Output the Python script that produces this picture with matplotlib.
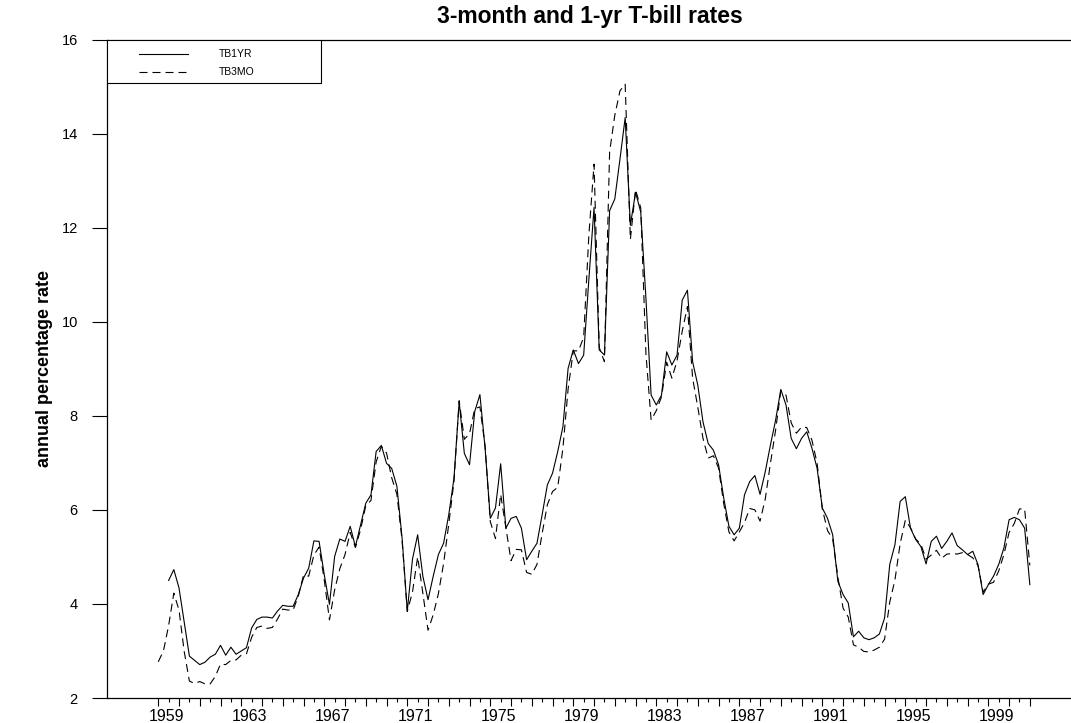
import numpy as np
import matplotlib.pyplot as plt
from matplotlib.patches import Rectangle
from matplotlib.transforms import blended_transform_factory

plt.rcParams['font.family'] = ['Liberation Sans', 'DejaVu Sans']

# quarterly averages, 1959Q1 .. 2001Q1
start_year = 1959
tb3mo = [
    2.77, 3.00, 3.54, 4.23,  3.87, 2.99, 2.36, 2.31,  2.35, 2.30, 2.30, 2.46,
    2.72, 2.71, 2.80, 2.81,  2.91, 2.94, 3.29, 3.50,  3.53, 3.48, 3.50, 3.68,
    3.89, 3.87, 3.87, 4.17,  4.61, 4.59, 5.04, 5.21,  4.51, 3.66, 4.30, 4.75,
    5.05, 5.52, 5.20, 5.58,  6.09, 6.20, 7.02, 7.35,  7.21, 6.68, 6.33, 5.35,
    3.84, 4.25, 5.00, 4.23,  3.44, 3.77, 4.22, 4.86,  5.70, 6.60, 8.32, 7.50,
    7.62, 8.15, 8.19, 7.36,  5.75, 5.39, 6.33, 5.63,  4.92, 5.16, 5.15, 4.67,
    4.63, 4.84, 5.50, 6.11,  6.39, 6.48, 7.31, 8.57,  9.38, 9.38, 9.67, 11.84,
    13.35, 9.45, 9.15, 13.61,  14.39, 14.91, 15.05, 11.75,  12.81, 12.42, 9.32, 7.91,
    8.11, 8.40, 9.14, 8.80,  9.17, 9.80, 10.32, 8.80,  8.18, 7.52, 7.10, 7.15,
    6.89, 6.13, 5.53, 5.34,  5.53, 5.73, 6.03, 6.00,  5.76, 6.23, 6.99, 7.70,
    8.53, 8.44, 7.85, 7.63,  7.76, 7.75, 7.48, 6.99,  6.02, 5.56, 5.38, 4.57,
    3.91, 3.72, 3.13, 3.08,  2.99, 2.98, 3.02, 3.08,  3.25, 4.04, 4.51, 5.28,
    5.78, 5.62, 5.38, 5.27,  4.95, 5.04, 5.14, 4.97,  5.06, 5.07, 5.06, 5.09,
    5.05, 4.98, 4.82, 4.25,  4.42, 4.46, 4.70, 5.05,  5.52, 5.71, 6.02, 6.02,
    4.82,
]

# 1-yr series starts two quarters later (1959Q3)
tb1yr_offset = 2
tb1yr = [
                4.50, 4.73,  4.34, 3.62, 2.89, 2.80,  2.71, 2.76, 2.87, 2.93,
    3.12, 2.91, 3.08, 2.93,  3.00, 3.07, 3.49, 3.67,  3.72, 3.72, 3.70, 3.85,
    3.97, 3.95, 3.95, 4.20,  4.55, 4.76, 5.34, 5.33,  4.62, 3.99, 5.01, 5.38,
    5.33, 5.65, 5.22, 5.68,  6.14, 6.32, 7.24, 7.37,  6.99, 6.88, 6.50, 5.40,
    3.85, 4.95, 5.47, 4.59,  4.09, 4.59, 5.05, 5.29,  5.90, 6.67, 8.30, 7.20,
    6.96, 8.09, 8.45, 7.31,  5.82, 6.04, 6.98, 5.61,  5.82, 5.86, 5.61, 4.94,
    5.12, 5.29, 5.90, 6.53,  6.78, 7.24, 7.77, 9.01,  9.40, 9.11, 9.29, 10.90,
    12.43, 9.40, 9.29, 12.36,  12.61, 13.46, 14.34, 12.05,  12.75, 12.33, 10.50, 8.44,
    8.23, 8.44, 9.36, 9.08,  9.29, 10.46, 10.67, 9.15,  8.65, 7.87, 7.41, 7.27,
    6.96, 6.25, 5.65, 5.47,  5.61, 6.32, 6.60, 6.73,  6.33, 6.81, 7.38, 7.91,
    8.56, 8.23, 7.52, 7.30,  7.52, 7.66, 7.31, 6.88,  6.04, 5.82, 5.47, 4.48,
    4.20, 4.02, 3.30, 3.42,  3.28, 3.24, 3.28, 3.36,  3.70, 4.84, 5.26, 6.18,
    6.28, 5.61, 5.37, 5.22,  4.85, 5.33, 5.44, 5.18,  5.33, 5.51, 5.24, 5.15,
    5.05, 5.12, 4.84, 4.20,  4.41, 4.59, 4.84, 5.19,  5.79, 5.84, 5.79, 5.61,
    4.41,
]

label_years = list(range(1959, 2000, 4))
series_names = ['TB1YR', 'TB3MO']

t3 = start_year + np.arange(len(tb3mo)) / 4
t1 = start_year + (tb1yr_offset + np.arange(len(tb1yr))) / 4

fig = plt.figure(figsize=(10.71, 7.23), dpi=100)
ax = fig.add_axes([107 / 1071, 25 / 723, 966 / 1071, 658.5 / 723])

dash = (0, (7.2, 4.5))
ax.plot(t1, tb1yr, color='black', lw=0.8)
ax.plot(t3, tb3mo, color='black', lw=0.8, ls=dash)

ax.set_xlim(1956.53, 2003.08)
ax.set_ylim(2, 16)
ax.spines['right'].set_visible(False)
for s in ['left', 'top', 'bottom']:
    ax.spines[s].set_linewidth(0.9)

ax.set_yticks(range(2, 17, 2))
ax.tick_params(axis='y', direction='out', length=11, width=0.8,
               labelsize=10.5, pad=10)

# yearly ticks, half-year minor ticks, labels centred on each year's quarters
ax.set_xticks(range(1959, 2002), labels=[])
ax.set_xticks(np.arange(1959.5, 2001, 1), minor=True)
ax.tick_params(axis='x', which='major', direction='out', length=5.5, width=0.8)
ax.tick_params(axis='x', which='minor', direction='out', length=3, width=0.8)
trans = blended_transform_factory(ax.transData, ax.transAxes)
for yr in label_years:
    ax.text(yr + 0.375, -0.016, str(yr), transform=trans, ha='center',
            va='top', fontsize=11.5)

ax.set_ylabel('annual percentage rate', fontsize=13, fontweight='bold')
ax.yaxis.set_label_coords(-0.056, 0.5)
ax.set_title('3-month and 1-yr T-bill rates', fontsize=16.5,
             fontweight='bold', pad=12)

# legend box in the upper left corner
ax.add_patch(Rectangle((0, 1 - 0.0665), 0.2215, 0.0665, transform=ax.transAxes,
                       facecolor='white', edgecolor='black', lw=0.8, zorder=5))
for i, (name, ls) in enumerate(zip(series_names, ['-', dash])):
    yy = 1 - 0.022 - i * 0.0278
    ax.plot([0.0334, 0.0835], [yy, yy], transform=ax.transAxes,
            color='black', lw=0.8, ls=ls, zorder=6)
    ax.text(0.116, yy, name, transform=ax.transAxes, va='center',
            fontsize=7.5, zorder=6)

fig.savefig('out.png', dpi=100)
